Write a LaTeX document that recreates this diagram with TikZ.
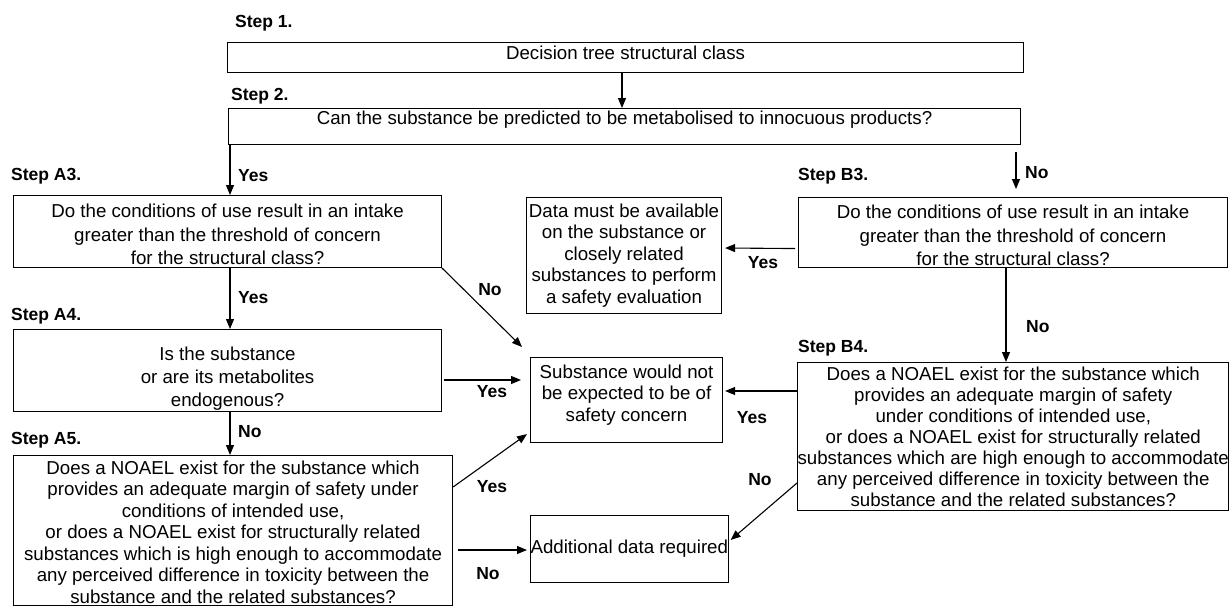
\documentclass[tikz,border=0pt]{standalone}
\usepackage{fontspec}
\setmainfont{Liberation Sans}
\usetikzlibrary{arrows.meta}
\begin{document}
\begin{tikzpicture}[x=1pt,y=-1pt,
  box/.style={draw, line width=1.1pt, align=center, inner sep=0pt, anchor=north west},
  txt/.style={font=\fontsize{18.7}{#1}\selectfont},
  txt/.default=21.5,
  lbl/.style={font=\fontsize{17.5}{20}\selectfont\bfseries, inner sep=0pt},
  arr/.style={line width=1.1pt, -{Triangle[length=10pt,width=8pt]}}]
\useasboundingbox (0,0) rectangle (1229,610);

% boxes
\node[box, txt, minimum width=796pt, minimum height=30pt, text depth=10pt] (s1) at (227,42) {Decision tree structural class};
\node[box, txt, minimum width=792pt, minimum height=36pt, text depth=17pt] (s2) at (228,108) {Can the substance be predicted to be metabolised to innocuous products?};
\node[box, txt=23.5, minimum width=428pt, minimum height=72pt] (a3) at (13,195) {\rule{0pt}{20pt}Do the conditions of use result in an intake\\greater than the threshold of concern\\for the structural class?};
\node[box, txt=23.5, minimum width=429pt, minimum height=70pt] (b3) at (798,197) {\rule{0pt}{20pt}Do the conditions of use result in an intake\\greater than the threshold of concern\\for the structural class?};
\node[box, txt, minimum width=195pt, minimum height=116pt] (data) at (526,197) {Data must be available\\on the substance or\\closely related\\substances to perform\\a safety evaluation};
\node[box, txt=23, minimum width=428pt, minimum height=82pt] (a4) at (13,329) {\rule{0pt}{29pt}Is the substance\\or are its metabolites\\endogenous?};
\node[box, txt, minimum width=192pt, minimum height=85pt, text depth=14pt] (subst) at (530,357) {Substance would not\\be expected to be of\\safety concern};
\node[box, txt=21, minimum width=430pt, minimum height=148pt] (b4) at (797,362) {Does a NOAEL exist for the substance which\\provides an adequate margin of safety\\under conditions of intended use,\\or does a NOAEL exist for structurally related\\substances which are high enough to accommodate\\any perceived difference in toxicity between the\\substance and the related substances?};
\node[box, txt, minimum width=439pt, minimum height=150pt] (a5) at (13,455) {\rule{0pt}{17pt}Does a NOAEL exist for the substance which\\provides an adequate margin of safety under\\conditions of intended use,\\or does a NOAEL exist for structurally related\\substances which is high enough to accommodate\\any perceived difference in toxicity between the\\substance and the related substances?};
\node[box, txt, minimum width=192pt, minimum height=67pt] (add) at (530,515) {Additional data required};

% step labels
\node[lbl, anchor=west] (l1) at (235,23) {Step 1.};
\node[lbl, anchor=west] (l2) at (231,96) {Step 2.};
\node[lbl, anchor=west] (la3) at (11,176) {Step A3.};
\node[lbl, anchor=west] (la4) at (11,316) {Step A4.};
\node[lbl, anchor=west] (la5) at (11,440) {Step A5.};
\node[lbl, anchor=west] (lb3) at (798,176) {Step B3.};
\node[lbl, anchor=west] (lb4) at (798,348) {Step B4.};

% helper coordinates
\coordinate (spine) at (230,0);
\coordinate (nostart) at (1016,152);
\coordinate (noend) at (1016,189);
\coordinate (bspine) at (1006,0);

% connectors
\draw[arr] (s1.south -| 622,0) -- (s2.north -| 622,0);
\draw[arr] (s2.south -| spine) -- (a3.north -| spine);
\draw[arr] (nostart) -- (noend);
\draw[arr] ([yshift=-16pt,xshift=-3pt]b3.west) -- ([xshift=3pt]data.east |- 0,248);
\draw[arr] (a3.south east) -- ([xshift=-8pt,yshift=10pt]subst.north west);
\draw[arr] (a3.south -| spine) -- (a4.north -| spine);
\draw[arr] ([xshift=2pt]a4.east |- 0,380) -- ([xshift=-9pt]subst.west |- 0,380);
\draw[arr] (a4.south -| spine) -- (a5.north -| spine);
\draw[arr] (a5.east |- 0,487) -- ([xshift=-3pt,yshift=9pt]subst.south west);
\draw[arr] ([xshift=5pt]a5.east |- 0,550) -- ([xshift=-3pt]add.west |- 0,550);
\draw[arr] (b3.south -| bspine) -- (b4.north -| bspine);
\draw[arr] (b4.west |- 0,391) -- ([xshift=2pt]subst.east |- 0,391);
\draw[arr] (b4.west |- 0,483) -- ([xshift=2pt]add.east |- 0,540);

% connector labels
\node[lbl, anchor=west] (y1) at (238,176) {Yes};
\node[lbl, anchor=west] (n1) at (1025,173) {No};
\node[lbl] (y2) at (763,263) {Yes};
\node[lbl] (n2) at (490,290) {No};
\node[lbl, anchor=west] (y3) at (238,298) {Yes};
\node[lbl] (y4) at (492,392) {Yes};
\node[lbl, anchor=west] (n3) at (238,432) {No};
\node[lbl] (y5) at (492,487) {Yes};
\node[lbl] (n4) at (488,574) {No};
\node[lbl, anchor=west] (n5) at (1026,327) {No};
\node[lbl] (y6) at (752,418) {Yes};
\node[lbl] (n6) at (760,480) {No};
\end{tikzpicture}
\end{document}
